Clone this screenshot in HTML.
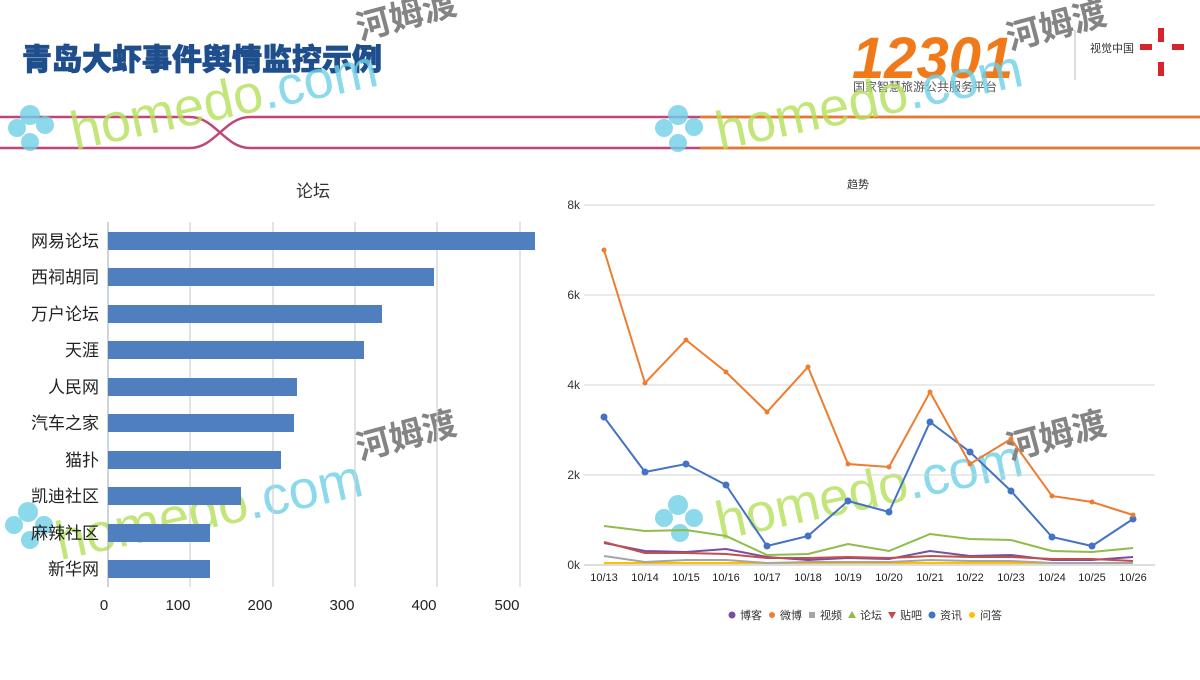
<!DOCTYPE html>
<html><head><meta charset="utf-8"><style>
body{margin:0;width:1200px;height:675px;background:#fff;overflow:hidden;font-family:"Liberation Sans","Noto Sans CJK SC",sans-serif}
</style></head><body>
<svg width="1200" height="675" viewBox="0 0 1200 675" xmlns="http://www.w3.org/2000/svg" font-family="Liberation Sans, Noto Sans CJK SC, sans-serif">
<text x="22" y="70" font-size="30" font-weight="900" fill="#1f4e8c" stroke="#1f4e8c" stroke-width="0.8" font-family="Noto Sans CJK SC, sans-serif">青岛大虾事件舆情监控示例</text>
<text x="852" y="78" font-size="58" font-weight="bold" font-style="italic" fill="#f07a1a">12301</text>
<text x="853" y="91" font-size="12" fill="#555" font-family="Noto Sans CJK SC, sans-serif">国家智慧旅游公共服务平台</text>
<line x1="1075" y1="30" x2="1075" y2="80" stroke="#bbb"/>
<text x="1090" y="52" font-size="11" fill="#333" font-family="Noto Sans CJK SC, sans-serif">视觉中国</text>
<g fill="#d9232a"><rect x="1158" y="28" width="6" height="14"/><rect x="1172" y="44" width="12" height="6"/><rect x="1158" y="62" width="6" height="14"/><rect x="1140" y="44" width="12" height="6"/></g>
<path d="M0 117 L190 117 C215 117 225 148 250 148 L1200 148" stroke="#c0457a" stroke-width="2.5" fill="none"/>
<path d="M0 148 L190 148 C215 148 225 117 250 117 L1200 117" stroke="#c0457a" stroke-width="2.5" fill="none"/>
<line x1="700" y1="117" x2="1200" y2="117" stroke="#e8782a" stroke-width="2.5"/>
<line x1="700" y1="148" x2="1200" y2="148" stroke="#e8782a" stroke-width="2.5"/>
<g opacity="0.8">
<text x="75" y="150" font-size="54" fill="#b5e05a" transform="rotate(-12 75 150)">homedo<tspan fill="#6fd0e6">.com</tspan></text>
<text x="720" y="150" font-size="54" fill="#b5e05a" transform="rotate(-12 720 150)">homedo<tspan fill="#6fd0e6">.com</tspan></text>
<text x="360" y="40" font-size="34" font-weight="bold" fill="#666" transform="rotate(-15 360 40)">河姆渡</text>
<text x="1010" y="50" font-size="34" font-weight="bold" fill="#666" transform="rotate(-15 1010 50)">河姆渡</text>
<text x="60" y="560" font-size="54" fill="#b5e05a" transform="rotate(-12 60 560)">homedo<tspan fill="#6fd0e6">.com</tspan></text>
<text x="360" y="460" font-size="34" font-weight="bold" fill="#666" transform="rotate(-15 360 460)">河姆渡</text>
<text x="720" y="540" font-size="54" fill="#b5e05a" transform="rotate(-12 720 540)">homedo<tspan fill="#6fd0e6">.com</tspan></text>
<text x="1010" y="460" font-size="34" font-weight="bold" fill="#666" transform="rotate(-15 1010 460)">河姆渡</text>
<g fill="#6fd0e6"><circle cx="30" cy="115" r="10"/><circle cx="45" cy="125" r="9"/><circle cx="17" cy="128" r="9"/><circle cx="30" cy="142" r="9"/></g>
<g fill="#6fd0e6"><circle cx="678" cy="115" r="10"/><circle cx="694" cy="127" r="9"/><circle cx="664" cy="128" r="9"/><circle cx="678" cy="143" r="9"/></g>
<g fill="#6fd0e6"><circle cx="28" cy="512" r="10"/><circle cx="44" cy="525" r="9"/><circle cx="14" cy="525" r="9"/><circle cx="30" cy="540" r="9"/></g>
<g fill="#6fd0e6"><circle cx="678" cy="505" r="10"/><circle cx="694" cy="518" r="9"/><circle cx="664" cy="518" r="9"/><circle cx="680" cy="533" r="9"/></g>
</g>
<text x="313" y="197" font-size="17" fill="#333" text-anchor="middle" font-family="Noto Sans CJK SC, sans-serif">论坛</text>
<g stroke="#d0d0d0" stroke-width="1.2">
<line x1="190" y1="222" x2="190" y2="587"/><line x1="273" y1="222" x2="273" y2="587"/><line x1="355" y1="222" x2="355" y2="587"/><line x1="437" y1="222" x2="437" y2="587"/><line x1="520" y1="222" x2="520" y2="587"/>
</g>
<line x1="108" y1="222" x2="108" y2="587" stroke="#aab8cc" stroke-width="1.2"/>
<g fill="#4f7fbf">
<rect x="108" y="232" width="427" height="18"/>
<rect x="108" y="268" width="326" height="18"/>
<rect x="108" y="305" width="274" height="18"/>
<rect x="108" y="341" width="256" height="18"/>
<rect x="108" y="378" width="189" height="18"/>
<rect x="108" y="414" width="186" height="18"/>
<rect x="108" y="451" width="173" height="18"/>
<rect x="108" y="487" width="133" height="18"/>
<rect x="108" y="524" width="102" height="18"/>
<rect x="108" y="560" width="102" height="18"/>
</g>
<g font-size="17" fill="#222" text-anchor="end" font-family="Noto Sans CJK SC, sans-serif">
<text x="99" y="247">网易论坛</text><text x="99" y="283">西祠胡同</text><text x="99" y="320">万户论坛</text><text x="99" y="356">天涯</text><text x="99" y="393">人民网</text><text x="99" y="429">汽车之家</text><text x="99" y="466">猫扑</text><text x="99" y="502">凯迪社区</text><text x="99" y="539">麻辣社区</text><text x="99" y="575">新华网</text>
</g>
<g font-size="15" fill="#222" text-anchor="middle">
<text x="104" y="610">0</text><text x="178" y="610">100</text><text x="260" y="610">200</text><text x="342" y="610">300</text><text x="424" y="610">400</text><text x="507" y="610">500</text>
</g>
<text x="858" y="188" font-size="11" fill="#333" text-anchor="middle" font-family="Noto Sans CJK SC, sans-serif">趋势</text>
<g stroke="#d4d4d4" stroke-width="1">
<line x1="584" y1="205" x2="1155" y2="205"/><line x1="584" y1="295" x2="1155" y2="295"/><line x1="584" y1="385" x2="1155" y2="385"/><line x1="584" y1="475" x2="1155" y2="475"/>
</g>
<line x1="584" y1="565" x2="1155" y2="565" stroke="#bbb"/>
<g font-size="12" fill="#333" text-anchor="end">
<text x="580" y="209">8k</text><text x="580" y="299">6k</text><text x="580" y="389">4k</text><text x="580" y="479">2k</text><text x="580" y="569">0k</text>
</g>
<g font-size="11" fill="#222" text-anchor="middle">
<text x="604" y="581">10/13</text><text x="645" y="581">10/14</text><text x="686" y="581">10/15</text><text x="726" y="581">10/16</text><text x="767" y="581">10/17</text><text x="808" y="581">10/18</text><text x="848" y="581">10/19</text><text x="889" y="581">10/20</text><text x="930" y="581">10/21</text><text x="970" y="581">10/22</text><text x="1011" y="581">10/23</text><text x="1052" y="581">10/24</text><text x="1092" y="581">10/25</text><text x="1133" y="581">10/26</text>
</g>
<g fill="none" stroke-width="2">
<polyline stroke="#ffc000" points="604,563 645,563 686,563 726,563 767,563 808,563 848,563 889,563 930,563 970,563 1011,563 1052,563 1092,563 1133,563"/>
<polyline stroke="#a5a5a5" points="604,556 645,562 686,560 726,560 767,563 808,562 848,562 889,562 930,560 970,561 1011,561 1052,563 1092,563 1133,563"/>
<polyline stroke="#7a4fa0" points="604,543 645,551 686,552 726,549 767,557 808,560 848,558 889,559 930,551 970,556 1011,555 1052,560 1092,560 1133,557"/>
<polyline stroke="#c0504d" points="604,542 645,553 686,553 726,554 767,558 808,558 848,557 889,558 930,556 970,557 1011,557 1052,559 1092,559 1133,561"/>
<polyline stroke="#8fbc4a" points="604,526 645,531 686,530 726,536 767,555 808,554 848,544 889,551 930,534 970,539 1011,540 1052,551 1092,552 1133,548"/>
<polyline stroke="#4472c4" points="604,417 645,472 686,464 726,485 767,546 808,536 848,501 889,512 930,422 970,452 1011,491 1052,537 1092,546 1133,519"/>
<polyline stroke="#ed7d31" points="604,250 645,383 686,340 726,372 767,412 808,367 848,464 889,467 930,392 970,464 1011,439 1052,496 1092,502 1133,515"/>
</g>
<g fill="#4472c4"><circle cx="604" cy="417" r="3.5"/><circle cx="645" cy="472" r="3.5"/><circle cx="686" cy="464" r="3.5"/><circle cx="726" cy="485" r="3.5"/><circle cx="767" cy="546" r="3.5"/><circle cx="808" cy="536" r="3.5"/><circle cx="848" cy="501" r="3.5"/><circle cx="889" cy="512" r="3.5"/><circle cx="930" cy="422" r="3.5"/><circle cx="970" cy="452" r="3.5"/><circle cx="1011" cy="491" r="3.5"/><circle cx="1052" cy="537" r="3.5"/><circle cx="1092" cy="546" r="3.5"/><circle cx="1133" cy="519" r="3.5"/></g>
<g fill="#ed7d31"><circle cx="604" cy="250" r="2.5"/><circle cx="645" cy="383" r="2.5"/><circle cx="686" cy="340" r="2.5"/><circle cx="726" cy="372" r="2.5"/><circle cx="767" cy="412" r="2.5"/><circle cx="808" cy="367" r="2.5"/><circle cx="848" cy="464" r="2.5"/><circle cx="889" cy="467" r="2.5"/><circle cx="930" cy="392" r="2.5"/><circle cx="970" cy="464" r="2.5"/><circle cx="1011" cy="439" r="2.5"/><circle cx="1052" cy="496" r="2.5"/><circle cx="1092" cy="502" r="2.5"/><circle cx="1133" cy="515" r="2.5"/></g>
<g font-size="11" fill="#333" font-family="Noto Sans CJK SC, sans-serif">
<circle cx="732" cy="615" r="3.5" fill="#7a4fa0"/><text x="740" y="619">博客</text>
<circle cx="772" cy="615" r="3" fill="#ed7d31"/><text x="780" y="619">微博</text>
<rect x="809" y="612" width="6" height="6" fill="#a5a5a5"/><text x="820" y="619">视频</text>
<polygon points="852,611 856,618 848,618" fill="#8fbc4a"/><text x="860" y="619">论坛</text>
<polygon points="888,612 896,612 892,619" fill="#c0504d"/><text x="900" y="619">贴吧</text>
<circle cx="932" cy="615" r="3.5" fill="#4472c4"/><text x="940" y="619">资讯</text>
<circle cx="972" cy="615" r="3" fill="#ffc000"/><text x="980" y="619">问答</text>
</g>
</svg>
</body></html>
